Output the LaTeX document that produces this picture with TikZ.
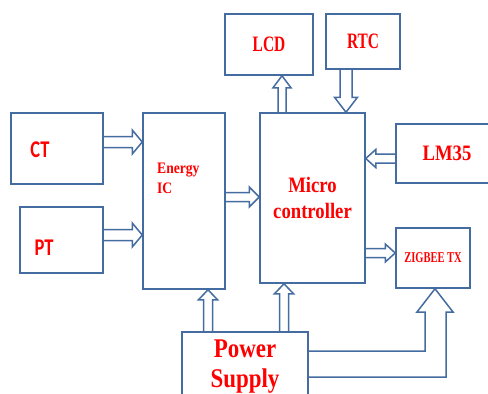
\documentclass[tikz,border=0pt]{standalone}
\usepackage{fontspec}
\usetikzlibrary{calc}
\newfontfamily\srfn[FakeStretch=0.70]{Liberation Serif}
\newfontfamily\srfw[FakeStretch=0.85]{Liberation Serif}
\newfontfamily\snsn[FakeStretch=0.77]{Carlito}
\definecolor{boxblue}{RGB}{68,108,160}
\definecolor{txtred}{RGB}{255,0,0}
\newcommand\fatarrow[5]{%
  \coordinate (fabase) at ($(#2)!#5!(#1)$);
  \draw[conn] ($(#1)!#3!90:(#2)$) -- ($(fabase)!#3!-90:(#1)$) -- ($(fabase)!#4!-90:(#1)$) -- (#2) -- ($(fabase)!#4!90:(#1)$) -- ($(fabase)!#3!90:(#1)$) -- ($(#1)!#3!-90:(#2)$);
}
\begin{document}
\begin{tikzpicture}[x=1pt,y=-1pt,
  blk/.style={draw=boxblue,line width=1.5pt,inner sep=0pt,text=txtred,align=center},
  conn/.style={draw=boxblue,line width=1.5pt,line join=miter},
  lbl/.style={text=txtred,inner sep=0pt,align=center},
  ser/.style={font=\srfn\bfseries\fontsize{22}{26}\selectfont},
  serw/.style={font=\srfw\bfseries\fontsize{22}{26}\selectfont},
  sans/.style={font=\snsn\bfseries\fontsize{24}{28}\selectfont}]
\clip (0,0) rectangle (488,394);
\fill[white] (0,0) rectangle (488,394);
% blocks
\node[blk,minimum width=92pt,minimum height=71pt] (ct) at (57,148.5) {};
\node[lbl,sans] (ctt) at (40,150) {CT};
\node[blk,minimum width=83pt,minimum height=66pt] (pt) at (61.5,240) {};
\node[lbl,sans] (ptt) at (44,248) {PT};
\node[blk,minimum width=82pt,minimum height=176pt] (eic) at (184,201) {};
\node[lbl,align=left,anchor=north west,font=\srfw\bfseries\fontsize{16}{20}\selectfont] (eict) at (157,163) {Energy\\IC};
\node[blk,serw,minimum width=105pt,minimum height=170pt] (mc) at (312.5,198) {Micro\\controller};
\node[blk,ser,minimum width=88pt,minimum height=61pt] (lcd) at (269,44.5) {LCD};
\node[blk,ser,minimum width=74pt,minimum height=55pt] (rtc) at (363,41.5) {RTC};
\node[blk,serw,minimum width=102pt,minimum height=59pt] (lm) at (447,153.5) {LM35};
\node[blk,minimum width=74pt,minimum height=60pt,font=\srfn\bfseries\fontsize{15}{18}\selectfont] (zb) at (433,258) {ZIGBEE TX};
\node[blk,minimum width=126pt,minimum height=70pt,font=\srfw\bfseries\fontsize{27}{30}\selectfont] (ps) at (245,367) {Power\\Supply};
% horizontal arrows
\coordinate (s1) at ([yshift=6.5pt]ct.east);  \coordinate (e1) at (s1 -| eic.west);
\coordinate (s2) at ([yshift=5pt]pt.east);    \coordinate (e2) at (s2 -| eic.west);
\coordinate (s3) at ([yshift=4pt]eic.east);   \coordinate (e3) at (s3 -| mc.west);
\coordinate (s4) at ([yshift=-5pt]lm.west);   \coordinate (e4) at (s4 -| mc.east);
\coordinate (s5) at ([yshift=-55pt]mc.east);  \coordinate (e5) at (s5 -| zb.west);
\fatarrow{s1}{e1}{5.5pt}{12pt}{10pt}
\fatarrow{s2}{e2}{5.5pt}{12pt}{10pt}
\fatarrow{s3}{e3}{4.5pt}{10pt}{10pt}
\fatarrow{s4}{e4}{4.5pt}{9pt}{10pt}
\fatarrow{s5}{e5}{4.5pt}{9pt}{10pt}
% vertical arrows
\coordinate (s6) at ([xshift=-30.5pt]mc.north); \coordinate (e6) at (s6 |- lcd.south);
\coordinate (s7) at ([xshift=-17pt]rtc.south);  \coordinate (e7) at (s7 |- mc.north);
\coordinate (s8) at ([xshift=-37pt]ps.north);   \coordinate (e8) at (s8 |- eic.south);
\coordinate (s9) at ([xshift=39pt]ps.north);    \coordinate (e9) at (s9 |- mc.south);
\fatarrow{s6}{e6}{4pt}{9pt}{12pt}
\fatarrow{s7}{e7}{6pt}{11.5pt}{15pt}
\fatarrow{s8}{e8}{4.5pt}{9.5pt}{10pt}
\fatarrow{s9}{e9}{4.5pt}{9.5pt}{10pt}
% L-shaped arrow from power supply to zigbee
\coordinate (za) at ([xshift=2pt]zb.south);
\coordinate (p1) at ([yshift=16pt]ps.east);
\coordinate (p2) at ([yshift=-10pt]ps.east);
\draw[conn] (p1) -- (p1 -| 425,0) -- (425,312) -- (417,312) -- (za) -- (453,312) -- (446,312) -- (p2 -| 446,0) -- (p2);
\end{tikzpicture}
\end{document}
